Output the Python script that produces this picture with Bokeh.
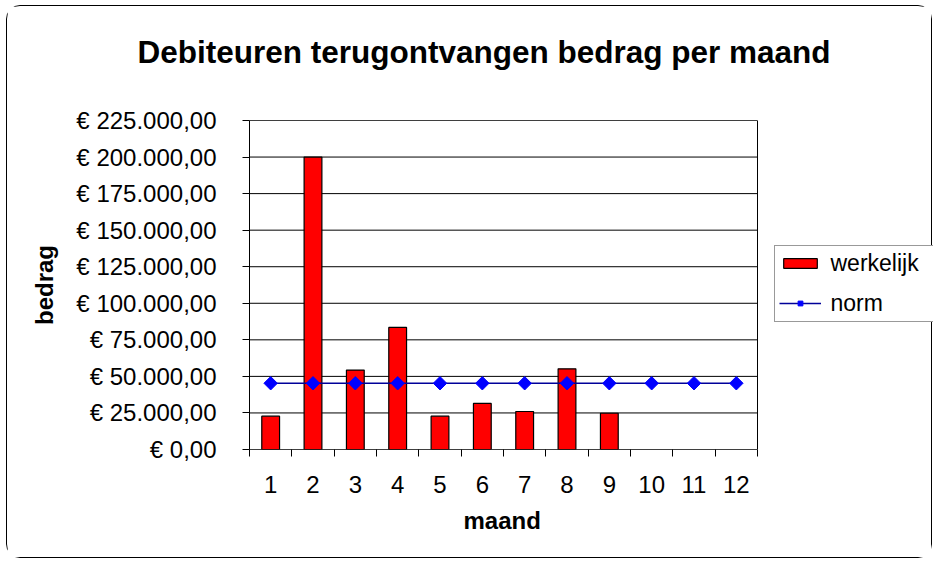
import math
from bokeh.plotting import figure
from bokeh.models import FixedTicker, Range1d, Legend, LegendItem, Title
from bokeh.embed import file_html
from bokeh.resources import INLINE

# ---- data ----
maanden = [1, 2, 3, 4, 5, 6, 7, 8, 9, 10, 11, 12]
werkelijk_maanden = [1, 2, 3, 4, 5, 6, 7, 8, 9]
werkelijk = [22800, 200000, 54300, 83500, 22800, 31500, 26000, 55200, 24800]
norm = [45300, 45300, 45300, 45300, 45300, 45300, 45300, 45300, 45300, 45300, 45300, 45300]
y_ticks = [0, 25000, 50000, 75000, 100000, 125000, 150000, 175000, 200000, 225000]
y_tick_labels = ["€ 0,00", "€ 25.000,00", "€ 50.000,00", "€ 75.000,00", "€ 100.000,00",
                 "€ 125.000,00", "€ 150.000,00", "€ 175.000,00", "€ 200.000,00", "€ 225.000,00"]
x_tick_labels = ["1", "2", "3", "4", "5", "6", "7", "8", "9", "10", "11", "12"]
title_text = "Debiteuren terugontvangen bedrag per maand"
x_label = "maand"
y_label = "bedrag"

FONT = "Liberation Sans"

# layout (pixels)
W, H = 926, 553
ML, MR, MT, MB = 242, 0, 114, 110
AREA_W = 508  # width of the category area inside the frame
frame_w = W - ML - MR

boundaries = [m - 0.5 for m in maanden] + [maanden[-1] + 0.5]
x_start = boundaries[0]
x_end = x_start + (boundaries[-1] - boundaries[0]) * frame_w / AREA_W

p = figure(width=W, height=H, output_backend="svg", toolbar_location=None,
           x_range=Range1d(x_start, x_end), y_range=Range1d(y_ticks[0], y_ticks[-1]),
           min_border_left=ML, min_border_right=MR, min_border_top=MT, min_border_bottom=MB,
           background_fill_color="white", border_fill_color="white")

p.styles = {"border": "1.5px solid black", "border-radius": "14px",
            "margin-left": "6px", "margin-top": "5px"}

# title (empty second line lifts the title upward)
p.title.text = title_text + "\n "
p.title.text_font = FONT
p.title.text_font_size = "31.5px"
p.title.text_font_style = "bold"
p.title.text_color = "black"
p.title.align = "left"
p.title.offset = -112
p.title.standoff = 30

# frame
p.outline_line_color = None
p.xgrid.visible = False
p.ygrid.visible = False

# y axis
p.yaxis.ticker = FixedTicker(ticks=y_ticks, minor_ticks=[])
p.yaxis.major_label_overrides = {t: l for t, l in zip(y_ticks, y_tick_labels)}
p.yaxis.major_tick_out = 7
p.yaxis.major_tick_in = 0
p.yaxis.minor_tick_out = 0
p.yaxis.minor_tick_in = 0
p.yaxis.major_label_standoff = 26
p.yaxis.major_label_text_font = FONT
p.yaxis.major_label_text_font_size = "24px"
p.yaxis.major_label_text_color = "black"
p.yaxis.axis_label = y_label
p.yaxis.axis_label_text_font = FONT
p.yaxis.axis_label_text_font_size = "24px"
p.yaxis.axis_label_text_font_style = "bold"
p.yaxis.axis_label_text_color = "black"
p.yaxis.axis_label_standoff = 15
p.yaxis.axis_line_color = "black"
p.yaxis.major_tick_line_color = "black"

# x axis
p.xaxis.ticker = FixedTicker(ticks=maanden, minor_ticks=boundaries)
p.xaxis.major_label_overrides = {m: l for m, l in zip(maanden, x_tick_labels)}
p.xaxis.major_tick_out = 0
p.xaxis.major_tick_in = 0
p.xaxis.minor_tick_out = 7
p.xaxis.minor_tick_in = 0
p.xaxis.minor_tick_line_color = "black"
p.xaxis.major_label_standoff = 19
p.xaxis.major_label_text_font = FONT
p.xaxis.major_label_text_font_size = "24px"
p.xaxis.major_label_text_color = "black"
p.xaxis.axis_line_color = None

# x axis label, centred under the category area
p.add_layout(Title(text=x_label, text_font=FONT, text_font_size="24px",
                   text_font_style="bold", text_color="black",
                   align="left", offset=214, standoff=19), "below")

# horizontal gridlines across the category area
p.segment(x0=[boundaries[0]] * len(y_ticks), y0=y_ticks,
          x1=[boundaries[-1]] * len(y_ticks), y1=y_ticks,
          line_color="black", line_width=1)

# glyphs
bars = p.vbar(x=werkelijk_maanden, top=werkelijk, bottom=0, width=0.42,
              fill_color="#FF0000", line_color="black", line_width=1.2)
line = p.line(maanden, norm, line_color="#000099", line_width=1.5)
pts = p.scatter(maanden, norm, marker="square", angle=math.pi / 4, size=9.5,
                fill_color="#0000FF", line_color="#0000FF")

# plot area border
p.quad(left=[boundaries[0]], right=[boundaries[-1]], bottom=[y_ticks[0]], top=[y_ticks[-1]],
       fill_alpha=0, line_color="black", line_width=1)

legend = Legend(items=[LegendItem(label="werkelijk", renderers=[bars]),
                       LegendItem(label="norm", renderers=[line, pts])],
                location=(524.5, 127.5), glyph_width=42, glyph_height=12,
                label_text_font=FONT, label_text_font_size="23px",
                label_text_color="black", label_width=100,
                padding=4, spacing=13, label_standoff=10, margin=0,
                border_line_color="#333333", border_line_width=1,
                background_fill_color="white", background_fill_alpha=1)
p.add_layout(legend)

open("out.html", "w").write(file_html(p, INLINE))
